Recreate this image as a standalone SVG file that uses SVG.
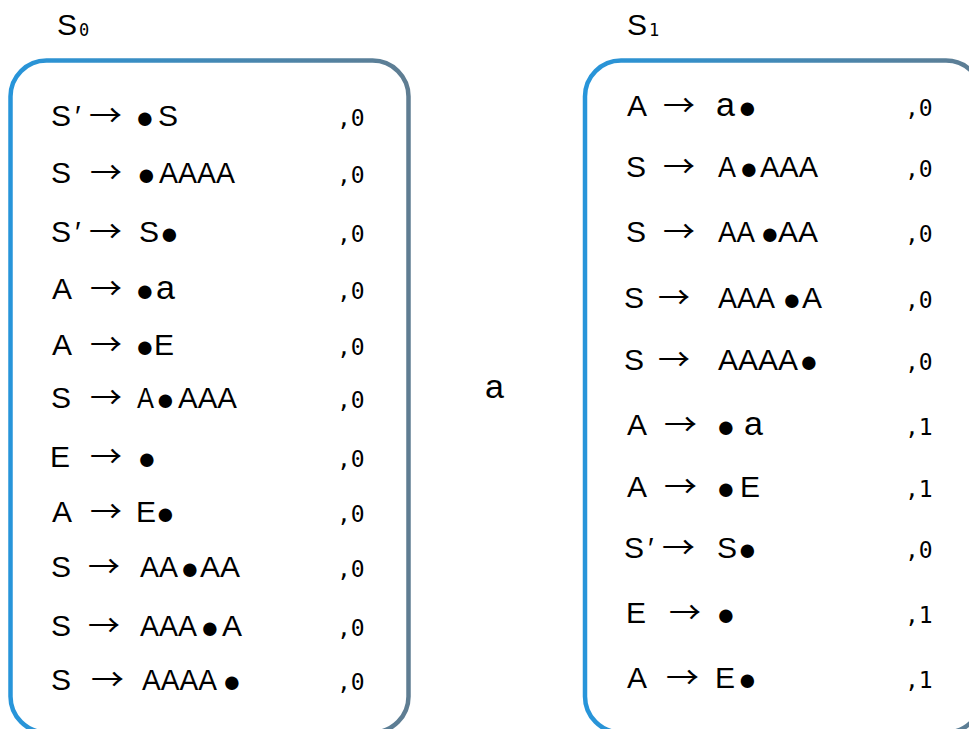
<svg xmlns="http://www.w3.org/2000/svg" width="969" height="729" viewBox="0 0 969 729">
  <defs>
    <linearGradient id="boxStroke" x1="0" y1="0" x2="1" y2="0">
      <stop offset="0" stop-color="#2795da"/>
      <stop offset="1" stop-color="#5f7d92"/>
    </linearGradient>
    <style>
      text { font-family: "Liberation Sans", "DejaVu Sans", sans-serif; font-size: 30px; fill: #000; }
      .box { fill: #fff; stroke: url(#boxStroke); stroke-width: 4.5; }
      .arr { font-family: "Noto Sans CJK JP", "DejaVu Sans", sans-serif; font-size: 30px; }
      .lc { font-size: 34px; }
      .dot { font-size: 31px; baseline-shift: -2px; }
      .idx { font-family: "DejaVu Sans Mono", "Liberation Mono", monospace; font-size: 23px; }
      .sub { font-family: "DejaVu Sans Mono", "Liberation Mono", monospace; font-size: 17px; }
    </style>
  </defs>
  <rect width="969" height="729" fill="#fff"/>

  <!-- state S0 -->
  <g id="state-s0">
    <text x="57" y="35">S<tspan class="sub" x="79" dy="1">0</tspan></text>
    <rect class="box" x="10.5" y="60.5" width="398" height="672" rx="36" ry="36"/>
    <g>
      <text y="126"><tspan x="51">S</tspan><tspan x="75">′</tspan><tspan class="arr" x="89" textLength="33" lengthAdjust="spacingAndGlyphs">→</tspan><tspan class="dot" x="135.5">●</tspan><tspan x="158">S</tspan><tspan class="idx" x="337">,0</tspan></text>
      <text y="183"><tspan x="51">S</tspan><tspan class="arr" x="90" textLength="32" lengthAdjust="spacingAndGlyphs">→</tspan><tspan class="dot" x="137">●</tspan><tspan x="159" textLength="76" lengthAdjust="spacingAndGlyphs">AAAA</tspan><tspan class="idx" x="337">,0</tspan></text>
      <text y="242"><tspan x="51">S</tspan><tspan x="75">′</tspan><tspan class="arr" x="89" textLength="33" lengthAdjust="spacingAndGlyphs">→</tspan><tspan x="139">S</tspan><tspan class="dot" x="160">●</tspan><tspan class="idx" x="337">,0</tspan></text>
      <text y="299"><tspan x="52">A</tspan><tspan class="arr" x="90" textLength="32" lengthAdjust="spacingAndGlyphs">→</tspan><tspan class="dot" x="135.5">●</tspan><tspan class="lc" x="156">a</tspan><tspan class="idx" x="337">,0</tspan></text>
      <text y="355"><tspan x="52">A</tspan><tspan class="arr" x="90" textLength="32" lengthAdjust="spacingAndGlyphs">→</tspan><tspan class="dot" x="135.5">●</tspan><tspan x="154">E</tspan><tspan class="idx" x="337">,0</tspan></text>
      <text y="408"><tspan x="51">S</tspan><tspan class="arr" x="90" textLength="32" lengthAdjust="spacingAndGlyphs">→</tspan><tspan x="137" textLength="17" lengthAdjust="spacingAndGlyphs">A</tspan><tspan class="dot" x="156">●</tspan><tspan x="178" textLength="59" lengthAdjust="spacingAndGlyphs">AAA</tspan><tspan class="idx" x="337">,0</tspan></text>
      <text y="467"><tspan x="50">E</tspan><tspan class="arr" x="90" textLength="32" lengthAdjust="spacingAndGlyphs">→</tspan><tspan class="dot" x="137.5">●</tspan><tspan class="idx" x="337">,0</tspan></text>
      <text y="522"><tspan x="52">A</tspan><tspan class="arr" x="90" textLength="32" lengthAdjust="spacingAndGlyphs">→</tspan><tspan x="136">E</tspan><tspan class="dot" x="156">●</tspan><tspan class="idx" x="337">,0</tspan></text>
      <text y="577"><tspan x="51">S</tspan><tspan class="arr" x="88" textLength="32" lengthAdjust="spacingAndGlyphs">→</tspan><tspan x="140" textLength="38" lengthAdjust="spacingAndGlyphs">AA</tspan><tspan class="dot" x="180.5">●</tspan><tspan x="200" textLength="40" lengthAdjust="spacingAndGlyphs">AA</tspan><tspan class="idx" x="337">,0</tspan></text>
      <text y="636"><tspan x="51">S</tspan><tspan class="arr" x="88" textLength="32" lengthAdjust="spacingAndGlyphs">→</tspan><tspan x="140" textLength="57" lengthAdjust="spacingAndGlyphs">AAA</tspan><tspan class="dot" x="200.5">●</tspan><tspan x="222">A</tspan><tspan class="idx" x="337">,0</tspan></text>
      <text y="690"><tspan x="51">S</tspan><tspan class="arr" x="91" textLength="33" lengthAdjust="spacingAndGlyphs">→</tspan><tspan x="142" textLength="75" lengthAdjust="spacingAndGlyphs">AAAA</tspan><tspan class="dot" x="222.5">●</tspan><tspan class="idx" x="337">,0</tspan></text>
    </g>
  </g>

  <!-- state S1 -->
  <g id="state-s1">
    <text x="627" y="35">S<tspan class="sub" x="649" dy="1">1</tspan></text>
    <rect class="box" x="585" y="60.5" width="397" height="672" rx="36" ry="36"/>
    <g>
      <text y="116"><tspan x="627">A</tspan><tspan class="arr" x="663" textLength="32" lengthAdjust="spacingAndGlyphs">→</tspan><tspan class="lc" x="716">a</tspan><tspan class="dot" x="738">●</tspan><tspan class="idx" x="905">,0</tspan></text>
      <text y="177"><tspan x="626">S</tspan><tspan class="arr" x="663" textLength="32" lengthAdjust="spacingAndGlyphs">→</tspan><tspan x="718" textLength="18" lengthAdjust="spacingAndGlyphs">A</tspan><tspan class="dot" x="739.5">●</tspan><tspan x="760" textLength="58" lengthAdjust="spacingAndGlyphs">AAA</tspan><tspan class="idx" x="905">,0</tspan></text>
      <text y="242"><tspan x="626">S</tspan><tspan class="arr" x="663" textLength="32" lengthAdjust="spacingAndGlyphs">→</tspan><tspan x="718" textLength="37" lengthAdjust="spacingAndGlyphs">AA</tspan><tspan class="dot" x="760.5">●</tspan><tspan x="778" textLength="40" lengthAdjust="spacingAndGlyphs">AA</tspan><tspan class="idx" x="905">,0</tspan></text>
      <text y="308"><tspan x="624">S</tspan><tspan class="arr" x="658" textLength="32" lengthAdjust="spacingAndGlyphs">→</tspan><tspan x="718" textLength="57" lengthAdjust="spacingAndGlyphs">AAA</tspan><tspan class="dot" x="782.5">●</tspan><tspan x="802">A</tspan><tspan class="idx" x="905">,0</tspan></text>
      <text y="370"><tspan x="624">S</tspan><tspan class="arr" x="658" textLength="32" lengthAdjust="spacingAndGlyphs">→</tspan><tspan x="718" textLength="80" lengthAdjust="spacingAndGlyphs">AAAA</tspan><tspan class="dot" x="799.5">●</tspan><tspan class="idx" x="905">,0</tspan></text>
      <text y="435"><tspan x="627">A</tspan><tspan class="arr" x="664" textLength="33" lengthAdjust="spacingAndGlyphs">→</tspan><tspan class="dot" x="716.5">●</tspan><tspan class="lc" x="744">a</tspan><tspan class="idx" x="905">,1</tspan></text>
      <text y="497"><tspan x="627">A</tspan><tspan class="arr" x="664" textLength="33" lengthAdjust="spacingAndGlyphs">→</tspan><tspan class="dot" x="716.5">●</tspan><tspan x="740">E</tspan><tspan class="idx" x="905">,1</tspan></text>
      <text y="558"><tspan x="624">S</tspan><tspan x="648">′</tspan><tspan class="arr" x="662" textLength="33" lengthAdjust="spacingAndGlyphs">→</tspan><tspan x="717">S</tspan><tspan class="dot" x="738">●</tspan><tspan class="idx" x="905">,0</tspan></text>
      <text y="623"><tspan x="626">E</tspan><tspan class="arr" x="669" textLength="32" lengthAdjust="spacingAndGlyphs">→</tspan><tspan class="dot" x="716.5">●</tspan><tspan class="idx" x="905">,1</tspan></text>
      <text y="688"><tspan x="627">A</tspan><tspan class="arr" x="666" textLength="33" lengthAdjust="spacingAndGlyphs">→</tspan><tspan x="715">E</tspan><tspan class="dot" x="738">●</tspan><tspan class="idx" x="905">,1</tspan></text>
    </g>
  </g>

  <!-- transition S0 -> S1 on symbol a -->
  <g id="connectors">
    <text class="lc" x="485" y="398">a</text>
  </g>
</svg>
